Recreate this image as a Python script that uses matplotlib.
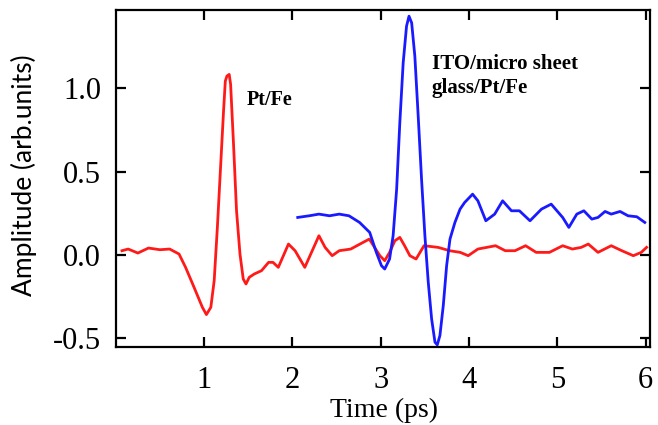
import matplotlib
matplotlib.use("Agg")
import matplotlib.pyplot as plt

# Pt/Fe emission trace (red)
pt_fe_time = [0.07, 0.14, 0.25, 0.37, 0.50, 0.61, 0.716, 0.79, 0.886, 0.98, 1.026, 1.076, 1.114,
              1.15, 1.19, 1.22, 1.24, 1.258, 1.284, 1.30, 1.333, 1.367, 1.406, 1.443, 1.474,
              1.511, 1.568, 1.65, 1.73, 1.78, 1.84, 1.955, 2.03, 2.14, 2.30, 2.37, 2.45, 2.53,
              2.66, 2.87, 2.99, 3.045, 3.10, 3.16, 3.216, 3.27, 3.33, 3.40, 3.49, 3.65, 3.78,
              3.90, 3.99, 4.10, 4.30, 4.41, 4.52, 4.64, 4.76, 4.91, 5.06, 5.17, 5.27, 5.35,
              5.46, 5.61, 5.73, 5.86, 5.95, 6.01]
pt_fe_amp = [0.024, 0.034, 0.010, 0.040, 0.030, 0.034, 0.004, -0.076, -0.196, -0.316, -0.360, -0.316, -0.156,
             0.164, 0.564, 0.864, 1.044, 1.074, 1.084, 1.024, 0.664, 0.264, 0.004, -0.146, -0.176,
             -0.136, -0.116, -0.096, -0.046, -0.046, -0.076, 0.064, 0.024, -0.076, 0.114, 0.044, -0.006, 0.024,
             0.034, 0.094, -0.006, -0.036, 0.014, 0.084, 0.104, 0.054, -0.006, -0.026, 0.054, 0.044, 0.024,
             0.014, -0.006, 0.034, 0.054, 0.024, 0.024, 0.054, 0.014, 0.014, 0.054, 0.034, 0.044, 0.064,
             0.014, 0.054, 0.024, -0.006, 0.014, 0.044]

# ITO/micro sheet glass/Pt/Fe emission trace (blue)
ito_time = [2.06, 2.19, 2.30, 2.42, 2.53, 2.64, 2.76, 2.875, 2.95, 3.008, 3.045, 3.10, 3.14, 3.18,
            3.216, 3.254, 3.292, 3.32, 3.35, 3.386, 3.424, 3.462, 3.50, 3.538, 3.576, 3.614, 3.64,
            3.67, 3.708, 3.746, 3.784, 3.84, 3.898, 3.95, 4.04, 4.10, 4.19, 4.29, 4.38, 4.48,
            4.57, 4.69, 4.82, 4.93, 5.06, 5.13, 5.22, 5.30, 5.39, 5.46, 5.54, 5.61, 5.71, 5.80,
            5.90, 5.99]
ito_amp = [0.224, 0.234, 0.244, 0.234, 0.244, 0.234, 0.194, 0.134, 0.014, -0.066, -0.086, -0.026, 0.114, 0.394,
           0.794, 1.154, 1.374, 1.434, 1.394, 1.194, 0.834, 0.454, 0.114, -0.166, -0.386, -0.526, -0.542,
           -0.486, -0.306, -0.066, 0.094, 0.194, 0.274, 0.314, 0.364, 0.324, 0.204, 0.244, 0.324, 0.264,
           0.264, 0.204, 0.274, 0.304, 0.224, 0.164, 0.244, 0.264, 0.214, 0.224, 0.260, 0.244, 0.260, 0.234,
           0.228, 0.194]

x_ticks = [1, 2, 3, 4, 5, 6]
y_ticks = [-0.5, 0.0, 0.5, 1.0]
y_tick_labels = ["-0.5", "0.0", "0.5", "1.0"]

fig = plt.figure(figsize=(6.58, 4.25), dpi=100)
ax = fig.add_axes([0.176, 0.1835, 0.812, 0.7925])

ax.plot(pt_fe_time, pt_fe_amp, color="#ff1a1a", linewidth=2.0)
ax.plot(ito_time, ito_amp, color="#1a1aff", linewidth=2.0)

ax.set_xlim(0, 6.05)
ax.set_ylim(-0.555, 1.47)
ax.set_xticks(x_ticks)
ax.set_xticklabels([str(t) for t in x_ticks])
ax.set_yticks(y_ticks)
ax.set_yticklabels(y_tick_labels)

for spine in ax.spines.values():
    spine.set_linewidth(1.6)
ax.tick_params(direction="in", length=7, width=1.6, top=True, right=True, labelsize=22)
ax.tick_params(axis="x", pad=13.5)
ax.tick_params(axis="y", pad=10.5)
for lbl in ax.get_xticklabels() + ax.get_yticklabels():
    lbl.set_family("Liberation Serif")

ax.set_xlabel("Time (ps)", family="Liberation Serif", fontsize=20)
ax.xaxis.set_label_coords(0.502, -0.152)
ax.set_ylabel("Amplitude (arb.units)", family="Lato", fontsize=19)
ax.yaxis.set_label_coords(-0.148, 0.51)

ax.text(1.477, 0.93, "Pt/Fe", family="Liberation Serif", fontweight="bold",
        fontsize=14.5, va="center", ha="left")
ax.text(3.58, 1.074, "ITO/micro sheet\nglass/Pt/Fe", family="Liberation Serif",
        fontweight="bold", fontsize=15, va="center", ha="left", linespacing=1.25)

fig.savefig("out.png", dpi=100)
